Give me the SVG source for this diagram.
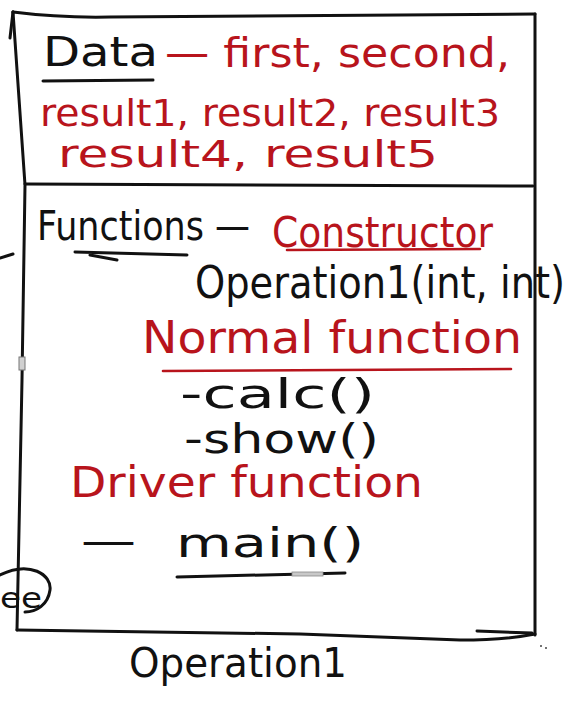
<svg xmlns="http://www.w3.org/2000/svg" width="576" height="708" viewBox="0 0 576 708">
  <style>
    .ink { fill: none; stroke: #111; stroke-width: 3; stroke-linecap: round; stroke-linejoin: round; }
    .red-ink { fill: none; stroke: #b8141c; stroke-width: 2.6; stroke-linecap: round; }
    .t { font-family: "DejaVu Sans", "Liberation Sans", sans-serif; fill: #111; }
    .r { fill: #b8141c; }
  </style>
  <rect width="576" height="708" fill="#ffffff"/>

  <!-- class box outline -->
  <g id="class-box">
    <path class="ink" d="M13,12 Q60,18 110,17 L535,14"/>
    <path class="ink" d="M13,12 L10,38"/>
    <path class="ink" d="M13,12 L25,185 L22,380 L17,630"/>
    <path class="ink" d="M535,14 L535,635"/>
    <path class="ink" d="M17,630 L300,634 L460,640 Q505,640 535,634"/>
    <path class="ink" d="M477,631 L532,633" stroke-width="2.4"/>
    <path class="ink" d="M25,184 L533,186"/>
    <rect x="19" y="357" width="6" height="13" fill="#d0d0d0" stroke="#777" stroke-width="1"/>
  </g>

  <!-- data members -->
  <g id="data-section">
    <text class="t" x="43" y="66" font-size="40" textLength="115" lengthAdjust="spacingAndGlyphs">Data</text>
    <path class="ink" d="M43,81 L153,80" stroke-width="2.6"/>
    <text class="t r" x="165" y="67" font-size="40" textLength="345" lengthAdjust="spacingAndGlyphs">— first, second,</text>
    <text class="t r" x="40" y="126" font-size="38" textLength="460" lengthAdjust="spacingAndGlyphs">result1, result2, result3</text>
    <text class="t r" x="58" y="167" font-size="38" textLength="380" lengthAdjust="spacingAndGlyphs">result4, result5</text>
  </g>

  <!-- member functions -->
  <g id="functions-section">
    <text class="t" x="37" y="240" font-size="40" textLength="213" lengthAdjust="spacingAndGlyphs">Functions —</text>
    <path class="ink" d="M75,252 L187,255 M90,255 L117,260" stroke-width="2.4"/>
    <text class="t r" x="272" y="247" font-size="42" textLength="221" lengthAdjust="spacingAndGlyphs">Constructor</text>
    <path class="red-ink" d="M287,250 L480,249"/>
    <text class="t" x="195" y="298" font-size="44" textLength="370" lengthAdjust="spacingAndGlyphs">Operation1(int, int)</text>
    <text class="t r" x="142" y="353" font-size="44" textLength="380" lengthAdjust="spacingAndGlyphs">Normal function</text>
    <path class="red-ink" d="M163,371 L511,369"/>
    <text class="t" x="180" y="408" font-size="40" textLength="195" lengthAdjust="spacingAndGlyphs">-calc()</text>
    <text class="t" x="184" y="453" font-size="40" textLength="195" lengthAdjust="spacingAndGlyphs">-show()</text>
    <text class="t r" x="70" y="497" font-size="42" textLength="353" lengthAdjust="spacingAndGlyphs">Driver function</text>
    <text class="t" x="81" y="555" font-size="40" textLength="55" lengthAdjust="spacingAndGlyphs">—</text>
    <text class="t" x="176" y="557" font-size="40" textLength="188" lengthAdjust="spacingAndGlyphs">main()</text>
    <path class="ink" d="M177,577 L345,573" stroke-width="2.6"/>
    <rect x="292" y="572" width="31" height="4" fill="#c8c8c8" stroke="#888" stroke-width="0.8"/>
  </g>

  <!-- stray marks -->
  <g id="connectors">
    <path class="ink" d="M0,258 L13,254" stroke-width="2.4"/>
    <path class="ink" d="M0,575 C30,560 52,575 50,590 C48,605 36,612 25,612" stroke-width="2.4"/>
    <circle cx="541" cy="646" r="1" fill="#444"/>
    <circle cx="546" cy="648" r="1" fill="#444"/>
  </g>

  <!-- class name below the box -->
  <g id="class-name">
    <text class="t" x="0" y="608" font-size="28" textLength="42" lengthAdjust="spacingAndGlyphs">ee</text>
    <text class="t" x="129" y="677" font-size="40" textLength="218" lengthAdjust="spacingAndGlyphs">Operation1</text>
  </g>
</svg>
